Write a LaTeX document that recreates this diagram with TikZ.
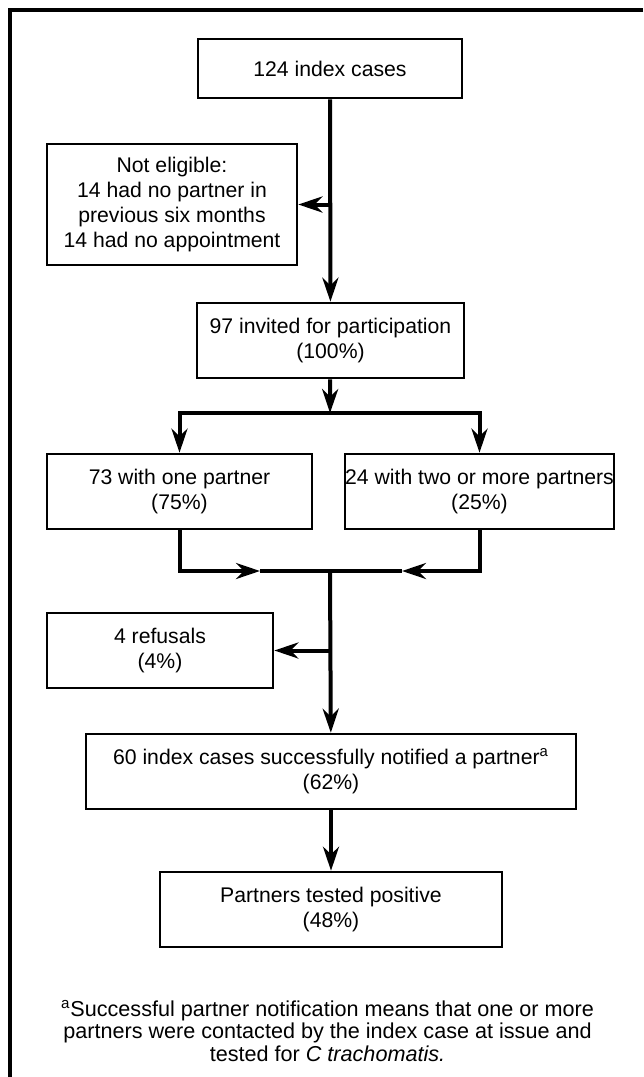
\documentclass[tikz,border=0pt]{standalone}
\usepackage{fontspec}
\setmainfont{Liberation Sans}
\usetikzlibrary{arrows.meta}

\begin{document}
\begin{tikzpicture}[x=0.5pt,y=-0.5pt,
  font=\fontsize{10.6}{12.5}\selectfont,
  box/.style={draw,line width=1.3pt,align=center,inner sep=0pt,minimum height=37.5pt},
  conn/.style={line width=2pt},
  arr/.style={conn,-{Stealth[length=12pt,width=8pt]}}]
\useasboundingbox (0,0) rectangle (643,1077);
\draw [conn] (643,10) -- (10,10) -- (10,1077);

\node [box,minimum width=132pt,minimum height=29.5pt] (index) at (330,68.5) {124 index cases};
\node [box,minimum width=125pt,minimum height=60.5pt] (noteligible) at (172,204.5)
  {Not eligible:\\14 had no partner in\\previous six months\\14 had no appointment};
\node [box,minimum width=133.5pt] (invited) at (330.5,340.5) {97 invited for participation\\(100\%)};
\node [box,minimum width=132.5pt] (onepartner) at (179.5,491.5) {73 with one partner\\(75\%)};
\node [box,minimum width=132.5pt] (morepartners) at (479.5,491.5) {24 with two or more partners\\(25\%)};
\node [box,minimum width=113pt] (refusals) at (160,650.5) {4 refusals\\(4\%)};
\node [box,minimum width=245pt] (notified) at (331,771.5)
  {60 index cases successfully notified a partner\textsuperscript{a}\\(62\%)};
\node [box,minimum width=171pt] (positive) at (331,909.5) {Partners tested positive\\(48\%)};
\node [align=center,font=\fontsize{10.8}{11.2}\selectfont] (footnote) at (327.5,1031)
  {\textsuperscript{a}Successful partner notification means that one or more\\
   partners were contacted by the index case at issue and\\
   tested for \textit{C trachomatis.}};

\coordinate (split) at (330,413);
\coordinate (merge) at (330,571);
\coordinate (mergeleft) at (260,571);
\coordinate (mergeright) at (402,571);

\draw [arr] (index) -- (invited);
\draw [arr] (index |- noteligible) -- (noteligible);
\draw [arr] (invited) -- (split);
\draw [arr] (split) -| (onepartner);
\draw [arr] (split) -| (morepartners);
\draw [arr] (onepartner) |- (mergeleft);
\draw [arr] (morepartners) |- (mergeright);
\draw [conn] (mergeleft) -- (mergeright);
\draw [arr] (merge) -- (notified);
\draw [arr] (merge |- refusals) -- (refusals);
\draw [arr] (notified) -- (positive);
\end{tikzpicture}
\end{document}
